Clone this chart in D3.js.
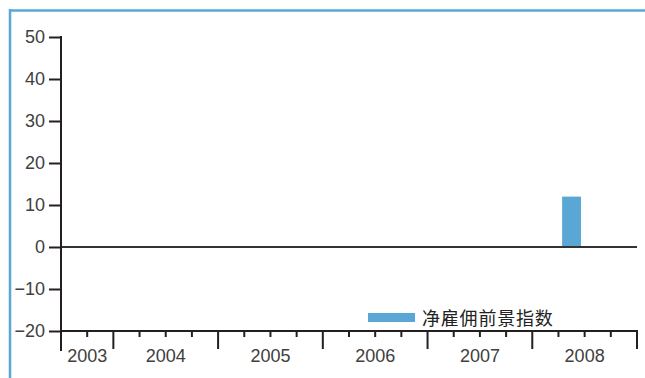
<!DOCTYPE html>
<html>
<head>
<meta charset="utf-8">
<script src="https://cdn.jsdelivr.net/npm/d3@7"></script>
<style>
  html, body { margin: 0; padding: 0; background: #fff; }
  svg { display: block; }
</style>
</head>
<body>
<svg id="chart" width="645" height="378"></svg>
<script>
// ---- data ----
const years = ["2003", "2004", "2005", "2006", "2007", "2008"];
const quarters = ["2003Q3","2003Q4",
  "2004Q1","2004Q2","2004Q3","2004Q4",
  "2005Q1","2005Q2","2005Q3","2005Q4",
  "2006Q1","2006Q2","2006Q3","2006Q4",
  "2007Q1","2007Q2","2007Q3","2007Q4",
  "2008Q1","2008Q2","2008Q3","2008Q4"];
const values = [null,null, null,null,null,null, null,null,null,null,
  null,null,null,null, null,null,null,null, null,12,null,null];
const yTicks = [-20, -10, 0, 10, 20, 30, 40, 50];
const seriesName = "净雇佣前景指数";

// ---- layout ----
const svg = d3.select("#chart");
const mLeft = 61, mRight = 637, mTop = 37, mBottom = 331;
const blue = "#5aa7d5", ink = "#231f20", txt = "#404040";
const latin = "'Liberation Sans', Arial, sans-serif";

// frame
svg.append("line").attr("x1", 10).attr("x2", 10).attr("y1", 9).attr("y2", 378)
  .attr("stroke", blue).attr("stroke-width", 2.5);
svg.append("line").attr("x1", 9).attr("x2", 645).attr("y1", 10.5).attr("y2", 10.5)
  .attr("stroke", blue).attr("stroke-width", 2.5);

const y = d3.scaleLinear().domain([-20, 50]).range([mBottom, mTop]);
const x = d3.scaleBand().domain(quarters).range([mLeft, mRight])
  .paddingInner(0.28).paddingOuter(0.14);
const qb = d3.scaleLinear().domain([0, quarters.length]).range([mLeft, mRight]);

// bars
svg.append("g").selectAll("rect")
  .data(quarters.map((q, i) => ({q, v: values[i]})).filter(d => d.v != null))
  .join("rect")
  .attr("x", d => x(d.q)).attr("width", x.bandwidth())
  .attr("y", d => y(Math.max(0, d.v)))
  .attr("height", d => Math.abs(y(d.v) - y(0)))
  .attr("fill", blue);

// zero line
svg.append("line").attr("x1", mLeft).attr("x2", mRight)
  .attr("y1", y(0)).attr("y2", y(0))
  .attr("stroke", "#333").attr("stroke-width", 2);

// y axis
const yAxis = d3.axisLeft(y).tickValues(yTicks).tickSize(12).tickPadding(4);
const gy = svg.append("g").attr("transform", `translate(${mLeft},0)`).call(yAxis);
gy.select(".domain").remove();
gy.selectAll(".tick line").attr("stroke", ink).attr("stroke-width", 2);
gy.selectAll(".tick text").attr("fill", txt)
  .style("font-family", latin).style("font-size", "18px");
svg.append("line").attr("x1", mLeft).attr("x2", mLeft).attr("y1", mTop - 1).attr("y2", 351)
  .attr("stroke", ink).attr("stroke-width", 2);

// x axis baseline
svg.append("line").attr("x1", mLeft - 1).attr("x2", mRight + 1).attr("y1", mBottom).attr("y2", mBottom)
  .attr("stroke", ink).attr("stroke-width", 2);

// quarter ticks
const boundaries = d3.range(1, quarters.length + 1);
svg.append("g").selectAll("line").data(boundaries).join("line")
  .attr("x1", i => qb(i)).attr("x2", i => qb(i))
  .attr("y1", mBottom)
  .attr("y2", i => (i === quarters.length || quarters[i].endsWith("Q1")) ? 349 : 337)
  .attr("stroke", ink).attr("stroke-width", 2);

// year labels
const yearSpans = years.map(yr => {
  const idx = quarters.map((q, i) => q.startsWith(yr) ? i : -1).filter(i => i >= 0);
  return {yr, a: qb(idx[0]), b: qb(idx[idx.length - 1] + 1)};
});
svg.append("g").selectAll("text").data(yearSpans).join("text")
  .attr("x", d => (d.a + d.b) / 2).attr("y", 362)
  .attr("text-anchor", "middle").attr("fill", txt)
  .style("font-family", latin).style("font-size", "18px")
  .text(d => d.yr);

// legend
svg.append("rect").attr("x", 368).attr("y", 313).attr("width", 47).attr("height", 9).attr("fill", blue);
svg.append("text").attr("x", 422).attr("y", 325).attr("fill", "#222")
  .style("font-family", "'Noto Sans CJK SC', sans-serif").style("font-size", "18px")
  .style("letter-spacing", "0.8px")
  .text(seriesName);
</script>
</body>
</html>
